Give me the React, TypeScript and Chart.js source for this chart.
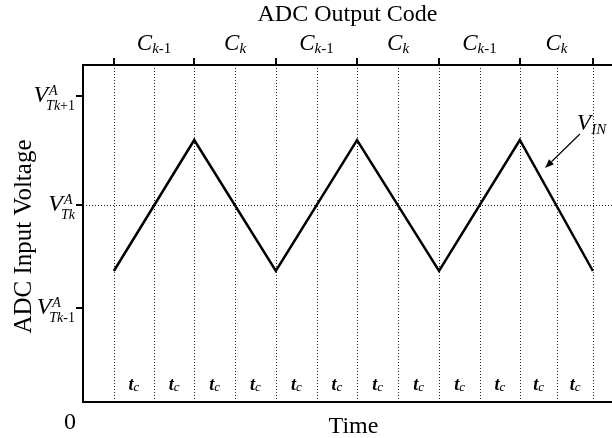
import { useEffect, useRef } from "react";
import { Chart, registerables } from "chart.js";

Chart.register(...registerables);

const SERIF = "'Liberation Serif', 'Times New Roman', serif";

// ---- data ----
const xMax = 13.03; // time axis extent (arbitrary units)
const yMax = 3.37; // voltage axis extent (arbitrary units)
const gridTimes = [0.76, 1.75, 2.74, 3.74, 4.75, 5.76, 6.75, 7.76, 8.77, 9.78, 10.76, 11.68, 12.56];
const codeBoundaries = [0.76, 2.74, 4.75, 6.75, 8.77, 10.76, 12.56];
const codeSubs = ["k-1", "k", "k-1", "k", "k-1", "k"];
const thresholdValues = [0.94, 1.97, 3.06];
const thresholdSubs = ["Tk-1", "Tk", "Tk+1"];
const vinTimes = [0.76, 2.74, 4.75, 6.75, 8.77, 10.76, 12.56];
const vinValues = [1.31, 2.62, 1.31, 2.62, 1.31, 2.62, 1.31];
const dottedLevel = 1.97;
const arrowFrom = { x: 12.24, y: 2.68 };
const arrowTo = { x: 11.38, y: 2.34 };
const vinLabelPos = { x: 12.17, y: 2.72 };

type Seg = { t: string; f: string; dy?: number };

function segWidth(ctx: CanvasRenderingContext2D, segs: Seg[]) {
  let w = 0;
  for (const s of segs) {
    ctx.font = s.f;
    w += ctx.measureText(s.t).width;
  }
  return w;
}

function drawRow(ctx: CanvasRenderingContext2D, segs: Seg[], x: number, y: number, align: "left" | "center" | "right") {
  const w = segWidth(ctx, segs);
  let cx = align === "left" ? x : align === "center" ? x - w / 2 : x - w;
  ctx.textAlign = "left";
  ctx.textBaseline = "alphabetic";
  for (const s of segs) {
    ctx.font = s.f;
    ctx.fillText(s.t, cx, y + (s.dy || 0));
    cx += ctx.measureText(s.t).width;
  }
}

function subSegs(sub: string, size: number): Seg[] {
  // letters italic, digits / signs upright
  const segs: Seg[] = [];
  const m = sub.match(/^([A-Za-z]+)(.*)$/);
  if (m) {
    segs.push({ t: m[1], f: `italic ${size}px ${SERIF}` });
    if (m[2]) segs.push({ t: m[2], f: `${size}px ${SERIF}` });
  } else segs.push({ t: sub, f: `${size}px ${SERIF}` });
  return segs;
}

const figurePlugin = {
  id: "figure",
  beforeDatasetsDraw(chart: any) {
    const ctx: CanvasRenderingContext2D = chart.ctx;
    const { left, right, top, bottom } = chart.chartArea;
    const xs = chart.scales.x;
    const ys = chart.scales.y;
    ctx.save();
    ctx.strokeStyle = "#222";
    ctx.lineWidth = 1;
    ctx.setLineDash([1, 2]);
    for (const t of gridTimes) {
      const px = Math.round(xs.getPixelForValue(t)) + 0.5;
      ctx.beginPath();
      ctx.moveTo(px, top);
      ctx.lineTo(px, bottom);
      ctx.stroke();
    }
    const py = Math.round(ys.getPixelForValue(dottedLevel)) + 0.5;
    ctx.beginPath();
    ctx.moveTo(left, py);
    ctx.lineTo(right, py);
    ctx.stroke();
    ctx.restore();
  },
  afterDatasetsDraw(chart: any) {
    const ctx: CanvasRenderingContext2D = chart.ctx;
    const { left, right, top, bottom } = chart.chartArea;
    const xs = chart.scales.x;
    const ys = chart.scales.y;
    ctx.save();
    ctx.fillStyle = "#000";
    ctx.strokeStyle = "#000";
    ctx.setLineDash([]);

    // axes frame (left, top, bottom)
    ctx.lineWidth = 2;
    ctx.beginPath();
    ctx.moveTo(left, top);
    ctx.lineTo(left, bottom);
    ctx.moveTo(left - 1, top);
    ctx.lineTo(right, top);
    ctx.moveTo(left - 1, bottom);
    ctx.lineTo(right, bottom);
    ctx.stroke();

    // top ticks at code boundaries
    for (const b of codeBoundaries) {
      const px = Math.round(xs.getPixelForValue(b));
      ctx.beginPath();
      ctx.moveTo(px, top);
      ctx.lineTo(px, top - 7);
      ctx.stroke();
    }
    // left ticks at thresholds
    for (const v of thresholdValues) {
      const py = Math.round(ys.getPixelForValue(v));
      ctx.beginPath();
      ctx.moveTo(left, py);
      ctx.lineTo(left - 7, py);
      ctx.stroke();
    }

    // code labels
    for (let i = 0; i < codeSubs.length; i++) {
      const mid = (xs.getPixelForValue(codeBoundaries[i]) + xs.getPixelForValue(codeBoundaries[i + 1])) / 2;
      const segs: Seg[] = [{ t: "C", f: `italic 23px ${SERIF}` }];
      for (const s of subSegs(codeSubs[i], 15)) segs.push({ ...s, dy: 3 });
      drawRow(ctx, segs, mid, top - 15, "center");
    }

    // t_c labels
    for (let i = 0; i < gridTimes.length - 1; i++) {
      const mid = (xs.getPixelForValue(gridTimes[i]) + xs.getPixelForValue(gridTimes[i + 1])) / 2;
      drawRow(
        ctx,
        [
          { t: "t", f: `italic bold 18px ${SERIF}` },
          { t: "c", f: `italic 13px ${SERIF}`, dy: 1 },
        ],
        mid,
        bottom - 12,
        "center"
      );
    }

    // threshold labels V^A_sub
    for (let i = 0; i < thresholdValues.length; i++) {
      const py = ys.getPixelForValue(thresholdValues[i]);
      const fV = `italic 24px ${SERIF}`;
      const fS = `italic 14px ${SERIF}`;
      ctx.font = fV;
      const vw = ctx.measureText("V").width;
      ctx.font = fS;
      const aw = ctx.measureText("A").width;
      const sub = subSegs(thresholdSubs[i], 14);
      const sw = segWidth(ctx, sub);
      const rightEdge = left - 8;
      const subX = rightEdge - sw;
      const blockX = Math.min(subX, rightEdge - aw - 2);
      const vx = blockX - vw + 2;
      ctx.textAlign = "left";
      ctx.textBaseline = "alphabetic";
      ctx.font = fV;
      ctx.fillText("V", vx, py + 6);
      ctx.font = fS;
      ctx.fillText("A", vx + vw + 1, py - 1);
      drawRow(ctx, sub, blockX, py + 14, "left");
    }

    // titles
    ctx.font = `24px ${SERIF}`;
    ctx.textAlign = "center";
    ctx.textBaseline = "middle";
    ctx.fillText("ADC Output Code", (left + right) / 2, top - 50);
    ctx.fillText("Time", (left + right) / 2 + 6, bottom + 25);
    ctx.fillText("0", left - 13, bottom + 21);

    ctx.save();
    ctx.font = `25px ${SERIF}`;
    ctx.translate(left - 59, (top + bottom) / 2 + 3);
    ctx.rotate(-Math.PI / 2);
    ctx.fillText("ADC Input Voltage", 0, 0);
    ctx.restore();

    // V_IN label + arrow
    const lx = xs.getPixelForValue(vinLabelPos.x);
    const ly = ys.getPixelForValue(vinLabelPos.y);
    drawRow(
      ctx,
      [
        { t: "V", f: `italic 23px ${SERIF}` },
        { t: "IN", f: `italic 15px ${SERIF}`, dy: 4 },
      ],
      lx,
      ly,
      "left"
    );
    const ax0 = xs.getPixelForValue(arrowFrom.x);
    const ay0 = ys.getPixelForValue(arrowFrom.y);
    const ax1 = xs.getPixelForValue(arrowTo.x);
    const ay1 = ys.getPixelForValue(arrowTo.y);
    const ang = Math.atan2(ay1 - ay0, ax1 - ax0);
    const hl = 9;
    const hw = 3.5;
    const bx = ax1 - hl * Math.cos(ang);
    const by = ay1 - hl * Math.sin(ang);
    ctx.lineWidth = 1.2;
    ctx.beginPath();
    ctx.moveTo(ax0, ay0);
    ctx.lineTo(bx, by);
    ctx.stroke();
    ctx.beginPath();
    ctx.moveTo(ax1, ay1);
    ctx.lineTo(bx + hw * Math.sin(ang), by - hw * Math.cos(ang));
    ctx.lineTo(bx - hw * Math.sin(ang), by + hw * Math.cos(ang));
    ctx.closePath();
    ctx.fill();

    ctx.restore();
  },
};

export default function App() {
  const ref = useRef<HTMLCanvasElement | null>(null);
  useEffect(() => {
    if (!ref.current) return;
    const chart = new Chart(ref.current, {
      type: "line",
      data: {
        datasets: [
          {
            data: vinTimes.map((t, i) => ({ x: t, y: vinValues[i] })),
            borderColor: "#000",
            borderWidth: 2.5,
            pointRadius: 0,
            tension: 0,
            fill: false,
          },
        ],
      },
      options: {
        responsive: false,
        animation: false,
        events: [],
        layout: { padding: { left: 83, top: 65, right: 0, bottom: 36 } },
        plugins: { legend: { display: false }, tooltip: { enabled: false } },
        scales: {
          x: { type: "linear", min: 0, max: xMax, display: false },
          y: { type: "linear", min: 0, max: yMax, display: false },
        },
      },
      plugins: [figurePlugin],
    });
    return () => chart.destroy();
  }, []);
  return (
    <div style={{ position: "fixed", left: 0, top: 0, width: 612, height: 438, background: "#fff" }}>
      <canvas ref={ref} width={612} height={438} style={{ width: 612, height: 438, display: "block" }} />
    </div>
  );
}
